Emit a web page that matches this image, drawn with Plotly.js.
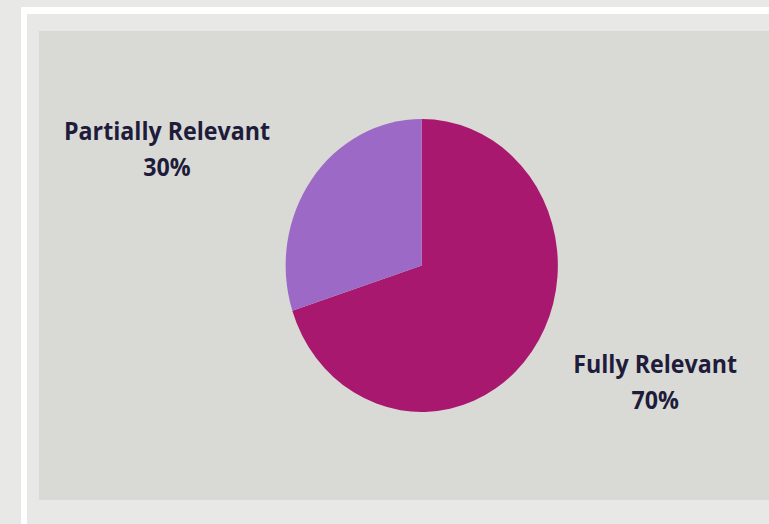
<!DOCTYPE html>
<html>
<head>
<meta charset="utf-8">
<script src="https://cdn.plot.ly/plotly-3.0.1.min.js"></script>
<style>
  html, body { margin: 0; padding: 0; width: 769px; height: 524px; overflow: hidden; background: #e8e8e6; }
  #frameV { position: absolute; left: 21px; top: 7px; width: 6px; height: 540px; background: #ffffff; }
  #frameH { position: absolute; left: 21px; top: 7px; width: 800px; height: 7px; background: #ffffff; }
  #chart { position: absolute; left: 39px; top: 31px; width: 800px; height: 469px;
           transform: scaleX(0.929); transform-origin: 0 0; }
</style>
</head>
<body>
<div id="frameV"></div>
<div id="frameH"></div>
<div id="chart"></div>
<script>
const categories = ["Fully Relevant", "Partially Relevant"];
const shares = [70, 30];
const sliceColors = ["#a8186f", "#9c6ac6"];

const trace = {
  type: "pie",
  labels: categories,
  values: shares,
  sort: false,
  direction: "clockwise",
  rotation: 0,
  marker: { colors: sliceColors, line: { width: 0 } },
  textposition: "outside",
  texttemplate: "<span style='font-size:41px'>&nbsp;</span><br>" +
                "<span style='font-size:25px'>%{label}</span><br>" +
                "<span style='font-size:25px'>%{percent:.0%}</span><br>" +
                "<span style='font-size:89px'>&nbsp;</span>",
  textfont: { family: "Open Sans", size: 27.7, color: "#1f1c3b", weight: 700 },
  hoverinfo: "label+percent",
  domain: { x: [0.03, 1.0], y: [0, 1] },
  showlegend: false
};

const layout = {
  width: 800,
  height: 469,
  margin: { l: 0, r: 0, t: 88, b: 88 },
  paper_bgcolor: "#d9dad5",
  plot_bgcolor: "#d9dad5",
  showlegend: false
};

Plotly.newPlot("chart", [trace], layout, { displayModeBar: false, staticPlot: true });
</script>
</body>
</html>
